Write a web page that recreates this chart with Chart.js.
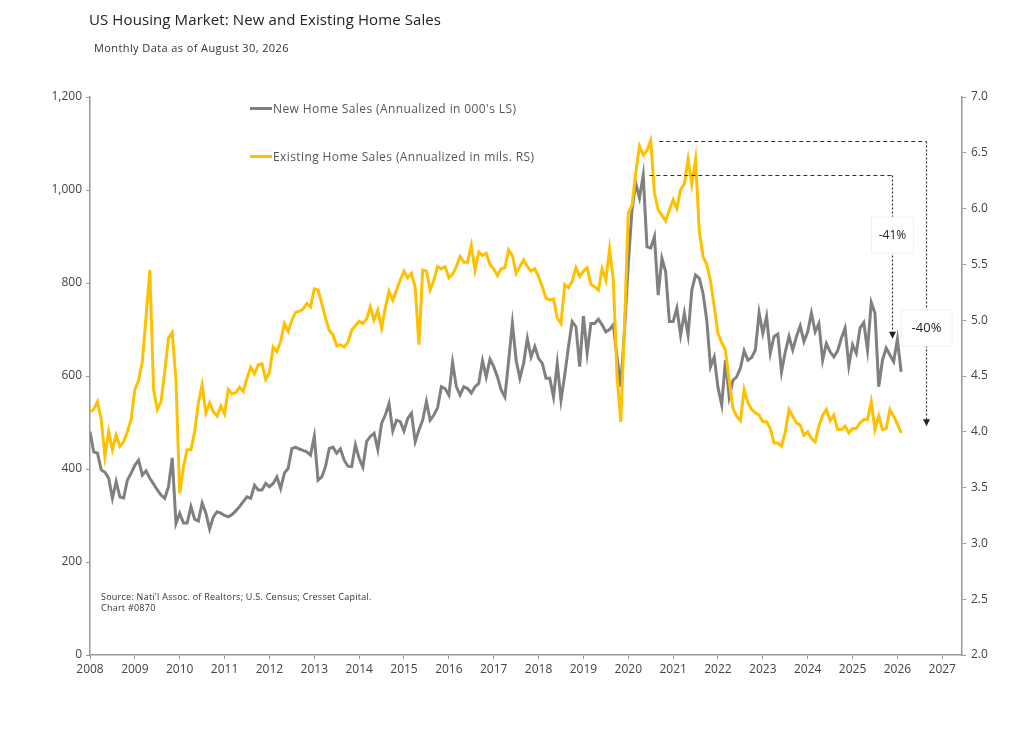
<!DOCTYPE html>
<html>
<head>
<meta charset="utf-8">
<script src="https://cdn.jsdelivr.net/npm/chart.js@4.4.1/dist/chart.umd.min.js"></script>
<style>
  body { margin: 0; background: #fff; font-family: 'Open Sans', sans-serif; color: #333; }
  #wrap { position: relative; width: 1024px; height: 744px; }
  #chart { position: absolute; left: 0; top: 0; }
  .txt { position: absolute; white-space: nowrap; }
  .key { position: absolute; white-space: nowrap; font-size: 12px; color: #555; letter-spacing: 0.4px; }
  .key span { display: inline-block; width: 22px; height: 3px; vertical-align: middle; margin-right: 1px; position: relative; top: -1px; }
</style>
</head>
<body>
<div id="wrap">
  <canvas id="chart" width="1024" height="744"></canvas>
  <div class="txt" style="left:89px; top:9px; font-size:15px; color:#222; letter-spacing:0.1px;">US Housing Market: New and Existing Home Sales</div>
  <div class="txt" style="left:94px; top:40px; font-size:11px; color:#333; letter-spacing:0.4px;">Monthly Data as of August 30, 2026</div>
  <div class="key" style="left:250px; top:100px;"><span style="background:#808080"></span>New Home Sales (Annualized in 000's LS)</div>
  <div class="key" style="left:250px; top:148px;"><span style="background:#FFC000"></span>Existing Home Sales (Annualized in mils. RS)</div>
  <div class="txt" style="left:101px; top:591px; font-size:9px; color:#333; line-height:11px; letter-spacing:0.25px;">Source: Nati'l Assoc. of Realtors; U.S. Census; Cresset Capital.<br>Chart #0870</div>
</div>
<script>
const startYear = 2008;
const yearTicks = [2008, 2009, 2010, 2011, 2012, 2013, 2014, 2015, 2016, 2017,
                   2018, 2019, 2020, 2021, 2022, 2023, 2024, 2025, 2026, 2027];

// New home sales, annualized, thousands (left scale), monthly from Jan 2008
const newHomeSales = [
  480, 437, 434, 398, 393, 380, 337, 373, 340, 338, 376, 391,
  408, 419, 387, 396, 380, 368, 355, 344, 337, 362, 424, 283,
  305, 284, 284, 319, 292, 288, 327, 305, 271, 297, 308, 305,
  300, 297, 302, 310, 319, 330, 340, 337, 365, 355, 355, 369,
  362, 369, 383, 358, 391, 401, 444, 447, 443, 440, 437, 430,
  470, 376, 383, 405, 444, 447, 434, 443, 419, 406, 405, 452,
  423, 404, 459, 470, 477, 442, 498, 516, 541, 482, 505, 502,
  482, 509, 520, 459, 484, 505, 545, 505, 516, 532, 577, 573,
  559, 629, 577, 559, 577, 573, 563, 577, 584, 633, 598, 636,
  620, 598, 570, 555, 633, 713, 634, 595, 627, 681, 641, 663,
  638, 627, 595, 595, 555, 627, 548, 602, 663, 717, 706, 620,
  729, 649, 713, 713, 722, 710, 695, 700, 710, 641, 577, 700,
  840, 957, 1015, 983, 1032, 878, 875, 900, 774, 853, 824, 717,
  717, 746, 688, 735, 688, 785, 817, 810, 778, 720, 620, 641,
  575, 538, 634, 555, 591, 598, 617, 654, 634, 640, 656, 736,
  692, 728, 649, 685, 690, 609, 652, 685, 656, 685, 708, 674,
  695, 735, 695, 713, 634, 670, 652, 641, 654, 681, 703, 622,
  667, 649, 703, 715, 656, 758, 735, 577, 634, 660, 645, 631,
  679, 609
];

// Existing home sales, annualized, millions (right scale)
const existingHomeSales = [
  4.18, 4.20, 4.27, 4.11, 3.78, 4.00, 3.84, 3.97, 3.87, 3.91, 4.00, 4.11,
  4.38, 4.46, 4.63, 5.03, 5.45, 4.38, 4.20, 4.27, 4.54, 4.84, 4.89, 4.46,
  3.45, 3.69, 3.84, 3.84, 4.00, 4.26, 4.42, 4.17, 4.26, 4.18, 4.14, 4.23,
  4.16, 4.38, 4.34, 4.35, 4.40, 4.36, 4.48, 4.58, 4.52, 4.60, 4.61, 4.47,
  4.53, 4.76, 4.72, 4.81, 4.97, 4.90, 5.00, 5.07, 5.08, 5.10, 5.15, 5.12,
  5.28, 5.27, 5.15, 5.02, 4.91, 4.87, 4.77, 4.78, 4.76, 4.80, 4.91, 4.95,
  4.99, 4.97, 5.01, 5.12, 5.00, 5.09, 4.93, 5.11, 5.26, 5.18, 5.27, 5.36,
  5.44, 5.38, 5.42, 5.29, 4.78, 5.45, 5.44, 5.27, 5.36, 5.48, 5.46, 5.48,
  5.38, 5.41, 5.48, 5.57, 5.52, 5.52, 5.67, 5.45, 5.61, 5.58, 5.60, 5.50,
  5.46, 5.40, 5.46, 5.47, 5.63, 5.58, 5.42, 5.48, 5.54, 5.48, 5.44, 5.46,
  5.39, 5.30, 5.20, 5.18, 5.19, 5.02, 4.97, 5.32, 5.29, 5.35, 5.47, 5.39,
  5.44, 5.47, 5.32, 5.30, 5.27, 5.46, 5.36, 5.64, 5.36, 4.50, 4.09, 4.95,
  5.96, 6.03, 6.32, 6.56, 6.48, 6.52, 6.61, 6.14, 5.99, 5.94, 5.89, 5.99,
  6.08, 6.00, 6.17, 6.22, 6.44, 6.22, 6.44, 5.80, 5.57, 5.50, 5.35, 5.12,
  4.88, 4.80, 4.73, 4.46, 4.21, 4.14, 4.10, 4.38, 4.26, 4.20, 4.17, 4.15,
  4.09, 4.09, 4.03, 3.90, 3.90, 3.87, 4.00, 4.20, 4.14, 4.08, 4.06, 3.97,
  4.00, 3.94, 3.91, 4.05, 4.15, 4.20, 4.10, 4.15, 4.02, 4.02, 4.05, 3.99,
  4.03, 4.03, 4.08, 4.11, 4.11, 4.27, 4.02, 4.14, 4.02, 4.03, 4.20, 4.14,
  4.07, 3.99
];

const monthX = newHomeSales.map((_, i) => startYear + i / 12);

// peak-to-now drops, drawn as dotted call-outs
const callouts = [
  { axis: 'y', peak: Math.max(...newHomeSales), from: 2020.47, at: 2025.87, end: 680, text: '-41%', textAt: 903, size: 12, boxW: 42 },
  { axis: 'y1', peak: Math.max(...existingHomeSales), from: 2020.69, at: 2026.64, end: 4.05, text: '-40%', textAt: 4.93, size: 13, boxW: 51 }
];

const FONT = "'Open Sans', sans-serif";
const AXIS = '#999';

const calloutPlugin = {
  id: 'callouts',
  afterDatasetsDraw(chart) {
    const ctx = chart.ctx;
    const xs = chart.scales.x;
    callouts.forEach(c => {
      const ys = chart.scales[c.axis];
      const x0 = xs.getPixelForValue(c.from);
      const x1 = Math.round(xs.getPixelForValue(c.at)) + 0.5;
      const yTop = Math.round(ys.getPixelForValue(c.peak)) + 0.5;
      const yEnd = ys.getPixelForValue(c.end);
      ctx.save();
      ctx.strokeStyle = '#333';
      ctx.lineWidth = 1.2;
      ctx.setLineDash([4, 3]);
      ctx.beginPath();
      ctx.moveTo(x0, yTop);
      ctx.lineTo(x1, yTop);
      ctx.stroke();
      ctx.setLineDash([2, 2]);
      ctx.beginPath();
      ctx.moveTo(x1, yTop);
      ctx.lineTo(x1, yEnd - 6);
      ctx.stroke();
      ctx.setLineDash([]);
      ctx.fillStyle = '#222';
      ctx.beginPath();
      ctx.moveTo(x1 - 3.5, yEnd - 7);
      ctx.lineTo(x1 + 3.5, yEnd - 7);
      ctx.lineTo(x1, yEnd);
      ctx.closePath();
      ctx.fill();
      const ty = ys.getPixelForValue(c.textAt);
      ctx.fillStyle = '#fff';
      ctx.strokeStyle = '#f0f0f0';
      ctx.lineWidth = 1;
      ctx.fillRect(x1 - c.boxW / 2, ty - 18, c.boxW, 36);
      ctx.strokeRect(x1 - c.boxW / 2, ty - 18, c.boxW, 36);
      ctx.fillStyle = '#222';
      ctx.font = c.size + 'px ' + FONT;
      ctx.textAlign = 'center';
      ctx.textBaseline = 'middle';
      ctx.fillText(c.text, x1, ty);
      ctx.restore();
    });
  }
};

new Chart(document.getElementById('chart').getContext('2d'), {
  type: 'line',
  data: {
    datasets: [
      {
        label: 'Existing Home Sales (Annualized in mils. RS)',
        data: existingHomeSales.map((v, i) => ({ x: monthX[i], y: v })),
        borderColor: '#FFC000',
        borderWidth: 3,
        pointRadius: 0,
        tension: 0,
        yAxisID: 'y1',
        order: 0
      },
      {
        label: "New Home Sales (Annualized in 000's LS)",
        data: newHomeSales.map((v, i) => ({ x: monthX[i], y: v })),
        borderColor: '#808080',
        borderWidth: 3,
        pointRadius: 0,
        tension: 0,
        yAxisID: 'y',
        order: 1
      }
    ]
  },
  options: {
    responsive: false,
    animation: false,
    layout: { padding: { top: 97, bottom: 59, left: 0, right: 0 } },
    plugins: { legend: { display: false }, tooltip: { enabled: false } },
    scales: {
      x: {
        type: 'linear',
        min: 2008,
        max: 2027.44,
        afterBuildTicks: axis => { axis.ticks = yearTicks.map(v => ({ value: v })); },
        afterFit: axis => { axis.height = 30; },
        ticks: { callback: v => String(v), color: '#444', font: { family: FONT, size: 12 }, padding: 3, maxRotation: 0, autoSkip: false },
        grid: { drawOnChartArea: false, tickLength: 4, color: AXIS, tickColor: AXIS },
        border: { color: AXIS, width: 1.5 }
      },
      y: {
        position: 'left',
        min: 0,
        max: 1200,
        afterFit: axis => { axis.width = 90; },
        ticks: { stepSize: 200, callback: v => v.toLocaleString('en-US'), color: '#444', font: { family: FONT, size: 12 }, padding: 4 },
        grid: { drawOnChartArea: false, tickLength: 4, color: AXIS, tickColor: AXIS },
        border: { color: AXIS, width: 1.5 }
      },
      y1: {
        position: 'right',
        min: 2,
        max: 7,
        afterFit: axis => { axis.width = 62; },
        ticks: { stepSize: 0.5, callback: v => v.toFixed(1), color: '#444', font: { family: FONT, size: 12 }, padding: 5 },
        grid: { drawOnChartArea: false, tickLength: 4, color: AXIS, tickColor: AXIS },
        border: { color: AXIS, width: 1.5 }
      }
    }
  },
  plugins: [calloutPlugin]
});
</script>
</body>
</html>
